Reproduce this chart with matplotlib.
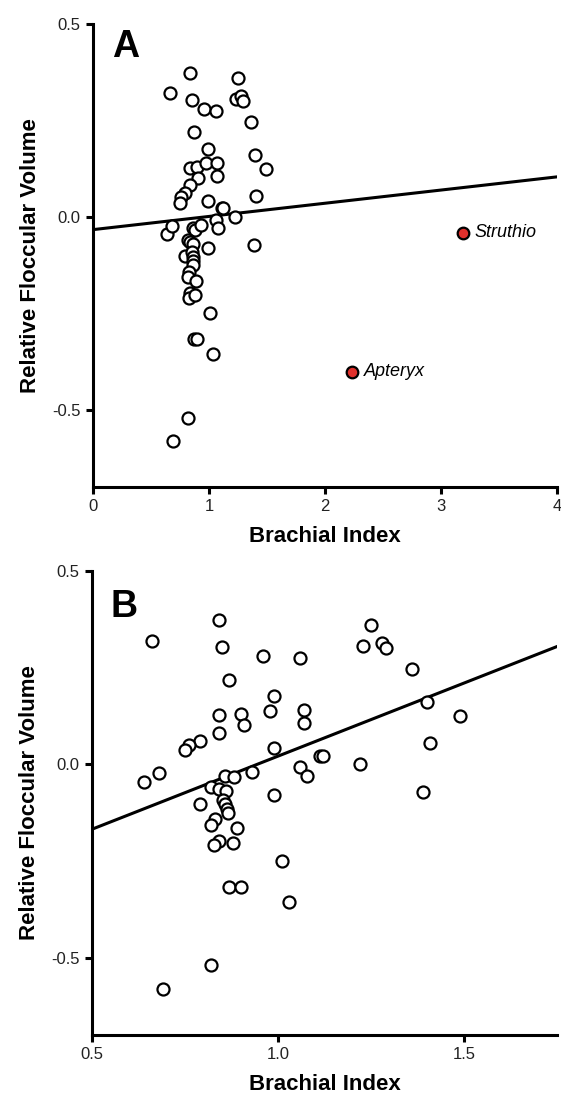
import numpy as np
import matplotlib
matplotlib.use("Agg")
import matplotlib.pyplot as plt

plt.rcParams['font.family'] = ['Liberation Sans', 'DejaVu Sans']
plt.rcParams['axes.unicode_minus'] = False

# brachial index / relative floccular volume (open circles, shared by both panels)
brachial = [0.660, 0.840, 0.850, 0.959, 1.059, 0.869, 0.989, 0.840, 0.900, 0.909,
            0.978, 1.070, 1.070, 0.840, 0.790, 0.762, 0.750, 0.989, 1.113, 1.122,
            1.250, 1.229, 1.279, 1.290, 1.359, 1.400, 1.489, 1.409, 0.641, 0.681,
            1.059, 1.079, 0.858, 0.882, 0.929, 0.819, 0.840, 0.860, 0.790, 0.852,
            0.858, 0.863, 0.866, 0.989, 0.831, 0.819, 0.889, 0.840, 0.828, 0.880,
            1.010, 0.869, 0.900, 1.030, 0.820, 0.690, 1.220, 1.389]
floccular = [0.320, 0.374, 0.303, 0.279, 0.275, 0.219, 0.177, 0.128, 0.130, 0.101,
             0.139, 0.140, 0.106, 0.082, 0.061, 0.051, 0.037, 0.042, 0.022, 0.022,
             0.361, 0.306, 0.313, 0.301, 0.246, 0.161, 0.125, 0.055, -0.045, -0.023,
             -0.008, -0.030, -0.030, -0.034, -0.021, -0.060, -0.064, -0.069, -0.102, -0.092,
             -0.104, -0.115, -0.125, -0.080, -0.142, -0.157, -0.165, -0.198, -0.209, -0.203,
             -0.250, -0.317, -0.317, -0.355, -0.520, -0.582, 0.000, -0.073]

# flightless outliers (panel A only)
ratite_names = ['Struthio', 'Apteryx']
ratite_bi = [3.19, 2.236]
ratite_fv = [-0.041, -0.401]

# regression lines (slope, intercept)
fit_a = (0.0342, -0.033)
fit_b = (0.378, -0.357)

fig = plt.figure(figsize=(5.61, 10.96), dpi=100)
ax_a = fig.add_axes([0.1658, 0.5557, 0.8272, 0.4224])
ax_b = fig.add_axes([0.1640, 0.0557, 0.8290, 0.4234])


def style_axis(ax):
    for side in ['top', 'right']:
        ax.spines[side].set_visible(False)
    for side in ['left', 'bottom']:
        ax.spines[side].set_linewidth(2.2)
    ax.tick_params(direction='out', length=5, width=2.2, labelsize=12, pad=4,
                   labelcolor='#222222')
    ax.set_xlabel('Brachial Index', fontsize=16, fontweight='bold', labelpad=8)
    ax.set_ylabel('Relative Floccular Volume', fontsize=16, fontweight='bold', labelpad=8)


# Panel A
x_line = np.array([0, 4])
ax_a.plot(x_line, fit_a[0] * x_line + fit_a[1], color='black', lw=2.2, zorder=2)
ax_a.scatter(brachial, floccular, s=75, facecolors='white', edgecolors='black',
             linewidths=1.6, zorder=3)
ax_a.scatter(ratite_bi, ratite_fv, s=70, facecolors='#e0302c', edgecolors='black',
             linewidths=1.6, zorder=3)
for name, x, y in zip(ratite_names, ratite_bi, ratite_fv):
    ax_a.annotate(name, (x, y), xytext=(8, 0), textcoords='offset points',
                  fontsize=13, fontstyle='italic', va='center')
ax_a.set_xlim(0, 4)
ax_a.set_ylim(-0.7, 0.5)
ax_a.set_xticks([0, 1, 2, 3, 4])
ax_a.set_yticks([-0.5, 0.0, 0.5])
ax_a.set_yticklabels(['-0.5', '0.0', '0.5'])
style_axis(ax_a)
ax_a.text(0.04, 0.99, 'A', transform=ax_a.transAxes, fontsize=27,
          fontweight='bold', va='top', ha='left')

# Panel B
x_line = np.array([0.5, 1.75])
ax_b.plot(x_line, fit_b[0] * x_line + fit_b[1], color='black', lw=2.2, zorder=2)
ax_b.scatter(brachial, floccular, s=75, facecolors='white', edgecolors='black',
             linewidths=1.6, zorder=3)
ax_b.set_xlim(0.5, 1.75)
ax_b.set_ylim(-0.7, 0.5)
ax_b.set_xticks([0.5, 1.0, 1.5])
ax_b.set_xticklabels(['0.5', '1.0', '1.5'])
ax_b.set_yticks([-0.5, 0.0, 0.5])
ax_b.set_yticklabels(['-0.5', '0.0', '0.5'])
style_axis(ax_b)
ax_b.text(0.04, 0.96, 'B', transform=ax_b.transAxes, fontsize=27,
          fontweight='bold', va='top', ha='left')

fig.savefig('out.png', dpi=100)
